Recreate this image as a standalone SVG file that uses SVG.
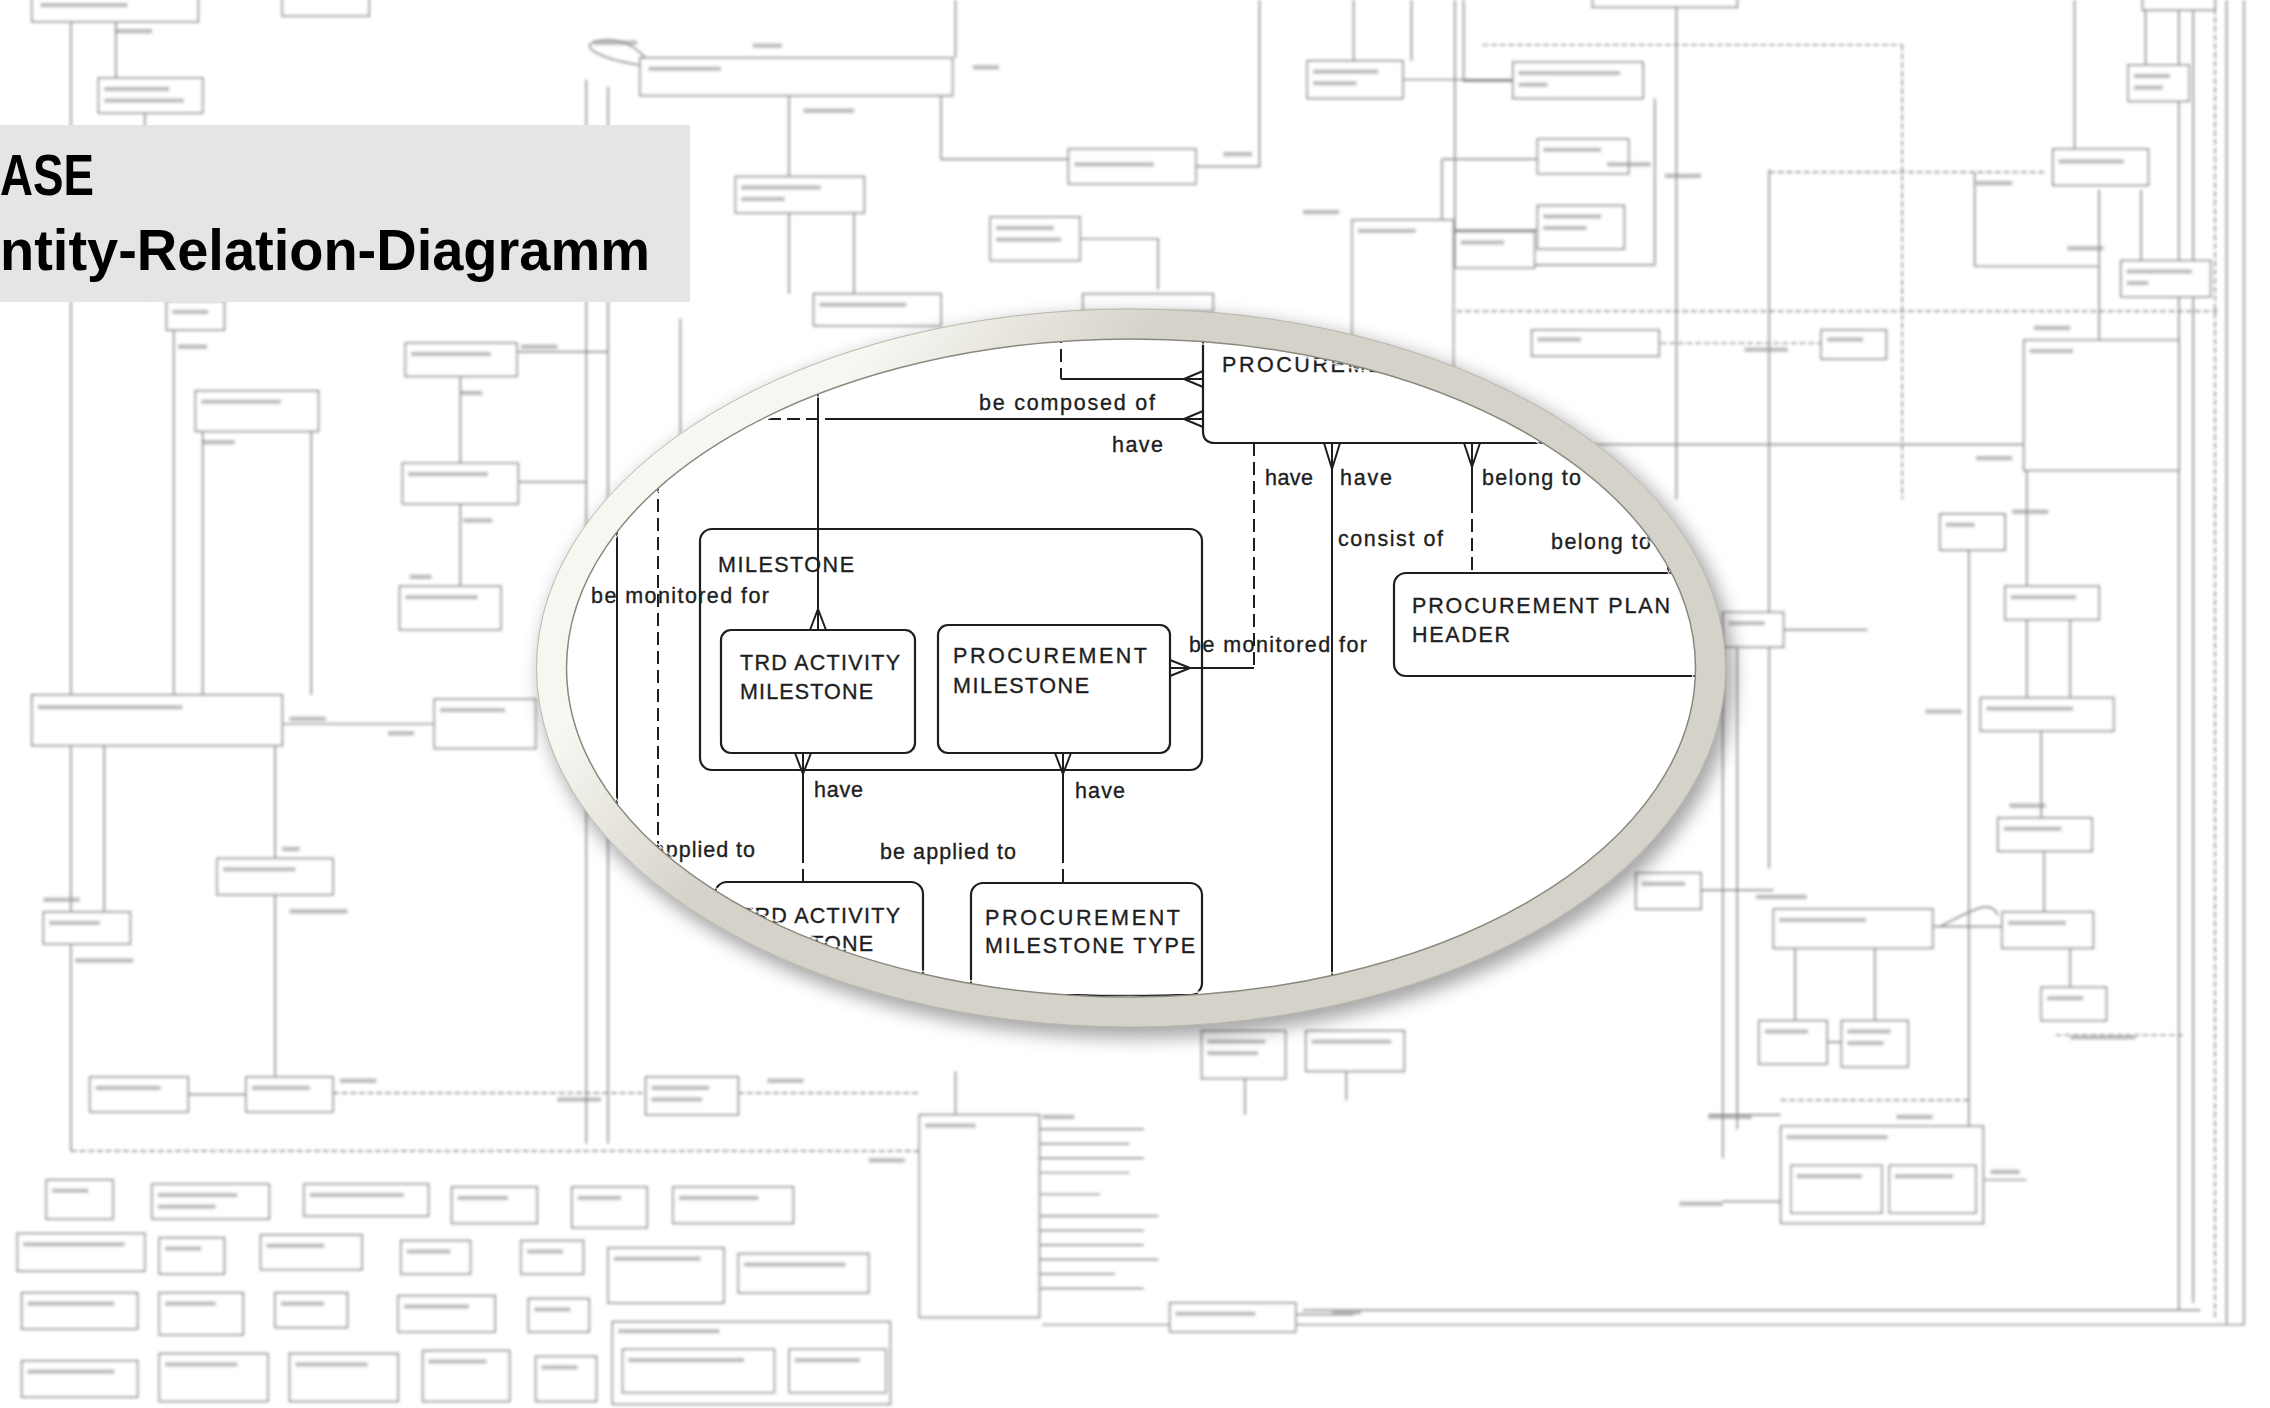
<svg xmlns="http://www.w3.org/2000/svg" width="2270" height="1408" viewBox="0 0 2270 1408">
<style>
.bg rect{fill:#fff;stroke:#858585;stroke-width:1.1}
.bg .ln{fill:none;stroke:#828282;stroke-width:1}
.bg .ds{fill:none;stroke:#858585;stroke-width:1;stroke-dasharray:4 2}
.bg .sm{fill:#8f8f8f;stroke:none;opacity:.6}
.ent{fill:#fff;stroke:#1e1e1e;stroke-width:2.2}
.open{fill:none}
.cn{fill:none;stroke:#1e1e1e;stroke-width:2}
.dash{stroke-dasharray:13 6}
.lbl{font-family:"Liberation Sans",Arial,sans-serif;font-size:21.5px;fill:#1e1e1e;stroke:#1e1e1e;stroke-width:0.35}
.ttl{font-family:"Liberation Sans",Arial,sans-serif;font-weight:bold;font-size:57px;fill:#000}
</style>
<defs>
<filter id="bgblur" x="-5%" y="-5%" width="110%" height="110%"><feGaussianBlur stdDeviation="1.1"/></filter>
<filter id="shadow" x="-20%" y="-20%" width="140%" height="140%"><feGaussianBlur stdDeviation="9"/></filter>
<linearGradient id="ringG" gradientUnits="userSpaceOnUse" x1="720" y1="535" x2="880" y2="665">
<stop offset="0" stop-color="#f7f6f1"/>
<stop offset="1" stop-color="#d5d3c9"/>
</linearGradient>
<clipPath id="lensClip"><ellipse cx="1131" cy="668" rx="567" ry="331"/></clipPath>
</defs>

<!-- blurred background diagram -->
<g id="background" class="bg" filter="url(#bgblur)" transform="scale(1.4477)">
<path class="ln" d="M49 15V630M80 15V54M100 78V208M120 228V480M140 298V480M215 298V480M72 515V630M190 515V593M190 618V744M130 756H170M49 652V795M318 260V320M318 348V405M195 500H300M357 243H420M357 333H405M405 55V790M420 60V790M470 220V470M545 66V122M545 147V203M590 147V203M650 66V110H738M660 0V40M745 165H800V200M826 115H870V0M935 0V42M975 0V42M969 55H1045M1005 0V160M1011 0V56H1046M996 110H1063M996 110V159H1063M1005 183H1143V68M1158 0V345M1222 117V600M1364 119V184H1450M1450 131V235M1479 131V182M1433 0V105M1482 0V46M967 307H1398M1505 0V905M1515 0V900M1538 0V915M1550 0V915M720 915H1550M900 905H1520M1400 325V482M1360 380V780M1430 428V482M1410 505V565M1412 588V630M1430 655V682M1335 640H1383M1200 440V780M1190 450V800M1240 655V705M1295 655V705M1370 815H1400M1262 720H1272M1175 615H1225M1232 435H1290M718 780H790M718 790H780M718 800H790M718 810H780M718 825H760M718 840H800M718 850H790M718 860H790M718 870H800M718 880H770M718 890H790M895 908H935M860 745V770M930 740V760M1180 770H1230M1190 830H1230M660 740V770M442 45C410 40 398 30 415 28C432 26 440 34 446 40M1340 640C1360 630 1375 620 1380 632"/>
<path class="ds" d="M49 795H635M230 755H446M510 755H635M1314 31V345M1024 31H1314M1222 119H1413M994 215H1532M1147 237H1260M1530 0V910M1230 760H1360M1420 715H1510"/>
<rect x="22" y="-3" width="115" height="18"/><rect x="195" y="-3" width="60" height="14"/><rect x="68" y="54" width="72" height="24"/><rect x="442" y="40" width="216" height="26"/><rect x="508" y="122" width="89" height="25"/><rect x="738" y="103" width="88" height="24"/><rect x="684" y="150" width="62" height="30"/><rect x="562" y="203" width="88" height="22"/><rect x="748" y="203" width="90" height="12"/><rect x="903" y="42" width="66" height="26"/><rect x="1045" y="43" width="90" height="25"/><rect x="1062" y="96" width="63" height="24"/><rect x="1062" y="142" width="60" height="30"/><rect x="934" y="152" width="70" height="110"/><rect x="1005" y="160" width="55" height="25"/><rect x="1058" y="228" width="88" height="18"/><rect x="1258" y="228" width="45" height="20"/><rect x="1100" y="-3" width="100" height="8"/><rect x="1418" y="103" width="66" height="25"/><rect x="1470" y="45" width="42" height="25"/><rect x="1465" y="180" width="62" height="25"/><rect x="1398" y="235" width="107" height="90"/><rect x="1340" y="355" width="45" height="25"/><rect x="1385" y="405" width="65" height="23"/><rect x="1368" y="482" width="92" height="23"/><rect x="1380" y="565" width="65" height="23"/><rect x="1383" y="630" width="63" height="25"/><rect x="1410" y="682" width="45" height="23"/><rect x="1225" y="628" width="110" height="27"/><rect x="1215" y="705" width="47" height="30"/><rect x="1272" y="705" width="46" height="32"/><rect x="1230" y="778" width="140" height="67"/><rect x="1237" y="805" width="63" height="33"/><rect x="1305" y="805" width="60" height="33"/><rect x="1130" y="603" width="45" height="25"/><rect x="1190" y="423" width="42" height="24"/><rect x="830" y="712" width="58" height="33"/><rect x="902" y="712" width="68" height="28"/><rect x="635" y="770" width="83" height="140"/><rect x="808" y="900" width="87" height="20"/><rect x="446" y="744" width="64" height="26"/><rect x="62" y="744" width="68" height="24"/><rect x="170" y="744" width="60" height="24"/><rect x="150" y="593" width="80" height="25"/><rect x="30" y="630" width="60" height="22"/><rect x="22" y="480" width="173" height="35"/><rect x="300" y="483" width="70" height="34"/><rect x="115" y="208" width="40" height="20"/><rect x="280" y="237" width="77" height="23"/><rect x="135" y="270" width="85" height="28"/><rect x="278" y="320" width="80" height="28"/><rect x="276" y="405" width="70" height="30"/><rect x="1480" y="-3" width="50" height="10"/>
<rect x="32" y="815" width="46" height="27"/><rect x="105" y="818" width="81" height="24"/><rect x="210" y="818" width="86" height="22"/><rect x="312" y="820" width="59" height="25"/><rect x="395" y="820" width="52" height="28"/><rect x="465" y="820" width="83" height="25"/>
<rect x="12" y="852" width="88" height="26"/><rect x="110" y="855" width="45" height="25"/><rect x="180" y="853" width="70" height="24"/><rect x="277" y="857" width="48" height="23"/><rect x="360" y="857" width="43" height="23"/><rect x="420" y="862" width="80" height="38"/><rect x="510" y="866" width="90" height="27"/>
<rect x="15" y="893" width="80" height="25"/><rect x="110" y="893" width="58" height="29"/><rect x="190" y="893" width="50" height="24"/><rect x="275" y="895" width="67" height="25"/><rect x="365" y="897" width="42" height="23"/>
<rect x="15" y="940" width="80" height="25"/><rect x="110" y="935" width="75" height="33"/><rect x="200" y="935" width="75" height="33"/><rect x="292" y="933" width="60" height="35"/><rect x="370" y="937" width="42" height="31"/><rect x="423" y="913" width="192" height="57"/><rect x="430" y="932" width="105" height="30"/><rect x="545" y="932" width="67" height="30"/>
<g>
<rect class="sm" x="28" y="2" width="60" height="3"/><rect class="sm" x="72" y="60" width="45" height="3"/><rect class="sm" x="72" y="68" width="55" height="3"/><rect class="sm" x="448" y="46" width="50" height="3"/><rect class="sm" x="512" y="128" width="55" height="3"/><rect class="sm" x="512" y="136" width="30" height="3"/><rect class="sm" x="742" y="112" width="55" height="3"/><rect class="sm" x="688" y="156" width="40" height="3"/><rect class="sm" x="688" y="164" width="45" height="3"/><rect class="sm" x="566" y="209" width="60" height="3"/><rect class="sm" x="907" y="48" width="45" height="3"/><rect class="sm" x="907" y="56" width="30" height="3"/><rect class="sm" x="1049" y="49" width="70" height="3"/><rect class="sm" x="1049" y="57" width="20" height="3"/><rect class="sm" x="1066" y="102" width="40" height="3"/><rect class="sm" x="1066" y="148" width="40" height="3"/><rect class="sm" x="1066" y="156" width="30" height="3"/><rect class="sm" x="938" y="158" width="40" height="3"/><rect class="sm" x="1009" y="166" width="30" height="3"/><rect class="sm" x="1062" y="233" width="30" height="3"/><rect class="sm" x="1262" y="233" width="25" height="3"/><rect class="sm" x="1422" y="110" width="45" height="3"/><rect class="sm" x="1474" y="51" width="25" height="3"/><rect class="sm" x="1474" y="59" width="20" height="3"/><rect class="sm" x="1469" y="186" width="45" height="3"/><rect class="sm" x="1469" y="194" width="15" height="3"/><rect class="sm" x="1402" y="241" width="30" height="3"/><rect class="sm" x="1344" y="361" width="20" height="3"/><rect class="sm" x="1389" y="411" width="45" height="3"/><rect class="sm" x="1372" y="488" width="60" height="3"/><rect class="sm" x="1384" y="571" width="40" height="3"/><rect class="sm" x="1387" y="636" width="40" height="3"/><rect class="sm" x="1414" y="688" width="25" height="3"/><rect class="sm" x="1229" y="634" width="60" height="3"/><rect class="sm" x="1219" y="711" width="30" height="3"/><rect class="sm" x="1276" y="711" width="30" height="3"/><rect class="sm" x="1276" y="719" width="25" height="3"/><rect class="sm" x="1234" y="784" width="70" height="3"/><rect class="sm" x="1241" y="811" width="45" height="3"/><rect class="sm" x="1309" y="811" width="40" height="3"/><rect class="sm" x="1134" y="609" width="30" height="3"/><rect class="sm" x="1194" y="429" width="25" height="3"/><rect class="sm" x="834" y="718" width="40" height="3"/><rect class="sm" x="834" y="726" width="35" height="3"/><rect class="sm" x="906" y="718" width="55" height="3"/><rect class="sm" x="639" y="776" width="35" height="3"/><rect class="sm" x="812" y="906" width="55" height="3"/><rect class="sm" x="450" y="750" width="40" height="3"/><rect class="sm" x="450" y="758" width="35" height="3"/><rect class="sm" x="66" y="750" width="45" height="3"/><rect class="sm" x="174" y="750" width="40" height="3"/><rect class="sm" x="154" y="599" width="50" height="3"/><rect class="sm" x="34" y="636" width="35" height="3"/><rect class="sm" x="26" y="487" width="100" height="3"/><rect class="sm" x="304" y="489" width="45" height="3"/><rect class="sm" x="119" y="214" width="25" height="3"/><rect class="sm" x="284" y="243" width="55" height="3"/><rect class="sm" x="139" y="276" width="55" height="3"/><rect class="sm" x="282" y="326" width="55" height="3"/><rect class="sm" x="280" y="411" width="50" height="3"/>
<rect class="sm" x="36" y="821" width="25" height="3"/><rect class="sm" x="109" y="824" width="55" height="3"/><rect class="sm" x="109" y="832" width="40" height="3"/><rect class="sm" x="214" y="824" width="65" height="3"/><rect class="sm" x="316" y="826" width="35" height="3"/><rect class="sm" x="399" y="826" width="30" height="3"/><rect class="sm" x="469" y="826" width="55" height="3"/><rect class="sm" x="16" y="858" width="70" height="3"/><rect class="sm" x="114" y="861" width="25" height="3"/><rect class="sm" x="184" y="859" width="40" height="3"/><rect class="sm" x="281" y="863" width="30" height="3"/><rect class="sm" x="364" y="863" width="25" height="3"/><rect class="sm" x="424" y="868" width="60" height="3"/><rect class="sm" x="514" y="872" width="70" height="3"/><rect class="sm" x="19" y="899" width="60" height="3"/><rect class="sm" x="114" y="899" width="35" height="3"/><rect class="sm" x="194" y="899" width="30" height="3"/><rect class="sm" x="279" y="901" width="45" height="3"/><rect class="sm" x="369" y="903" width="25" height="3"/><rect class="sm" x="19" y="946" width="60" height="3"/><rect class="sm" x="114" y="941" width="50" height="3"/><rect class="sm" x="204" y="941" width="50" height="3"/><rect class="sm" x="296" y="939" width="40" height="3"/><rect class="sm" x="374" y="943" width="25" height="3"/><rect class="sm" x="427" y="918" width="70" height="3"/><rect class="sm" x="434" y="938" width="80" height="3"/><rect class="sm" x="549" y="938" width="45" height="3"/>
<rect class="sm" x="80" y="20" width="25" height="3"/><rect class="sm" x="410" y="28" width="30" height="3"/><rect class="sm" x="520" y="30" width="20" height="3"/><rect class="sm" x="672" y="45" width="18" height="3"/><rect class="sm" x="555" y="75" width="35" height="3"/><rect class="sm" x="845" y="105" width="20" height="3"/><rect class="sm" x="900" y="145" width="25" height="3"/><rect class="sm" x="1110" y="112" width="30" height="3"/><rect class="sm" x="1150" y="120" width="25" height="3"/><rect class="sm" x="1365" y="125" width="25" height="3"/><rect class="sm" x="1428" y="170" width="25" height="3"/><rect class="sm" x="1205" y="240" width="30" height="3"/><rect class="sm" x="1405" y="225" width="25" height="3"/><rect class="sm" x="1365" y="315" width="25" height="3"/><rect class="sm" x="1390" y="352" width="25" height="3"/><rect class="sm" x="1330" y="490" width="25" height="3"/><rect class="sm" x="1388" y="555" width="25" height="3"/><rect class="sm" x="1213" y="618" width="35" height="3"/><rect class="sm" x="1180" y="770" width="30" height="3"/><rect class="sm" x="1310" y="770" width="25" height="3"/><rect class="sm" x="1160" y="830" width="30" height="3"/><rect class="sm" x="1375" y="808" width="20" height="3"/><rect class="sm" x="1430" y="715" width="45" height="3"/><rect class="sm" x="920" y="905" width="20" height="3"/><rect class="sm" x="600" y="800" width="25" height="3"/><rect class="sm" x="235" y="745" width="25" height="3"/><rect class="sm" x="385" y="758" width="30" height="3"/><rect class="sm" x="530" y="745" width="25" height="3"/><rect class="sm" x="200" y="495" width="25" height="3"/><rect class="sm" x="268" y="505" width="18" height="3"/><rect class="sm" x="195" y="585" width="12" height="3"/><rect class="sm" x="200" y="628" width="40" height="3"/><rect class="sm" x="52" y="662" width="40" height="3"/><rect class="sm" x="30" y="620" width="25" height="3"/><rect class="sm" x="140" y="304" width="22" height="3"/><rect class="sm" x="123" y="238" width="20" height="3"/><rect class="sm" x="318" y="270" width="15" height="3"/><rect class="sm" x="320" y="358" width="20" height="3"/><rect class="sm" x="283" y="397" width="15" height="3"/><rect class="sm" x="360" y="238" width="25" height="3"/><rect class="sm" x="720" y="770" width="22" height="3"/></g>
</g>

<!-- title -->
<g id="title">
<rect x="0" y="125" width="690" height="177" fill="#e5e5e5"/>
<text class="ttl" x="0" y="195" textLength="94" lengthAdjust="spacingAndGlyphs">ASE</text>
<text class="ttl" x="0" y="270" textLength="650" lengthAdjust="spacingAndGlyphs">ntity-Relation-Diagramm</text>
</g>

<!-- magnifier lens -->
<g id="lens">
<ellipse cx="1137" cy="676" rx="580" ry="345" fill="none" stroke="#000" stroke-opacity="0.35" stroke-width="34" filter="url(#shadow)"/>
<ellipse cx="1131" cy="668" rx="566" ry="331" fill="#fff"/>
<g clip-path="url(#lensClip)">
<g id="procurement">
<path class="ent open" d="M1203 280V431Q1203 443 1215 443H1780"/>
<text class="lbl" x="1222" y="372" textLength="194">PROCUREMENT</text>
</g>
<g id="milestone">
<rect class="ent open" x="700" y="529" width="502" height="241" rx="12"/>
<text class="lbl" x="718" y="572" textLength="136">MILESTONE</text>
</g>
<g id="trd-activity-milestone">
<rect class="ent" x="721" y="630" width="194" height="123" rx="10"/>
<text class="lbl" x="740" y="670" textLength="160">TRD ACTIVITY</text>
<text class="lbl" x="740" y="699" textLength="133">MILESTONE</text>
</g>
<g id="procurement-milestone">
<rect class="ent" x="938" y="625" width="232" height="128" rx="10"/>
<text class="lbl" x="953" y="663" textLength="194">PROCUREMENT</text>
<text class="lbl" x="953" y="693" textLength="136">MILESTONE</text>
</g>
<g id="trd-activity-milestone-type">
<rect class="ent" x="715" y="882" width="208" height="130" rx="12"/>
<text class="lbl" x="740" y="923" textLength="160">TRD ACTIVITY</text>
<text class="lbl" x="740" y="951" textLength="133">MILESTONE</text>
</g>
<g id="procurement-milestone-type">
<rect class="ent" x="971" y="883" width="231" height="112" rx="12"/>
<text class="lbl" x="985" y="925" textLength="195">PROCUREMENT</text>
<text class="lbl" x="985" y="953" textLength="210">MILESTONE TYPE</text>
</g>
<g id="procurement-plan-header">
<rect class="ent" x="1394" y="573" width="330" height="103" rx="12"/>
<text class="lbl" x="1412" y="613" textLength="258">PROCUREMENT PLAN</text>
<text class="lbl" x="1412" y="642" textLength="98">HEADER</text>
</g>
<g id="connectors">
<path class="cn dash" d="M1061 330V379M730 419H836M658 480V900M1254 443V668M1472 500V573M803 850V882M1063 850V883"/>
<path class="cn" d="M1061 379H1203M836 419H1203M818 380V630M617 520V840M1254 668H1170M1332 443V1010M1472 443V500M803 753V850M1063 753V850M1668 573V530"/>
<path class="cn" d="M1184 379L1203 371M1184 379L1203 387M1184 419L1203 411M1184 419L1203 427M1190 668L1170 660M1190 668L1170 676M1332 469L1324 443M1332 469L1340 443M1472 467L1464 443M1472 467L1480 443M818 609L810 630M818 609L826 630M803 774L795 753M803 774L811 753M1063 774L1055 753M1063 774L1071 753"/>
<text class="lbl" x="979" y="410" textLength="176">be composed of</text>
<text class="lbl" x="1112" y="452" textLength="51">have</text>
<text class="lbl" x="1265" y="485" textLength="48">have</text>
<text class="lbl" x="1340" y="485" textLength="52">have</text>
<text class="lbl" x="1482" y="485" textLength="99">belong to</text>
<text class="lbl" x="1338" y="546" textLength="105">consist of</text>
<text class="lbl" x="1551" y="549" textLength="100">belong to</text>
<text class="lbl" x="1189" y="652" textLength="178">be monitored for</text>
<text class="lbl" x="591" y="603" textLength="178">be monitored for</text>
<text class="lbl" x="814" y="797" textLength="49">have</text>
<text class="lbl" x="1075" y="798" textLength="50">have</text>
<text class="lbl" x="880" y="859" textLength="136">be applied to</text>
<text class="lbl" x="620" y="857" textLength="135">be applied to</text>
</g>
</g>
<ellipse cx="1131" cy="668" rx="579.5" ry="344" fill="none" stroke="url(#ringG)" stroke-width="30"/>
<ellipse cx="1131" cy="668" rx="564.5" ry="329" fill="none" stroke="#8a887f" stroke-width="1.5"/>
<ellipse cx="1131" cy="668" rx="562" ry="326.5" fill="none" stroke="#ffffff" stroke-width="1.5" opacity="0.8"/>
<ellipse cx="1131" cy="668" rx="594.5" ry="359" fill="none" stroke="#b9b7ad" stroke-width="1"/>
</g>
</svg>
